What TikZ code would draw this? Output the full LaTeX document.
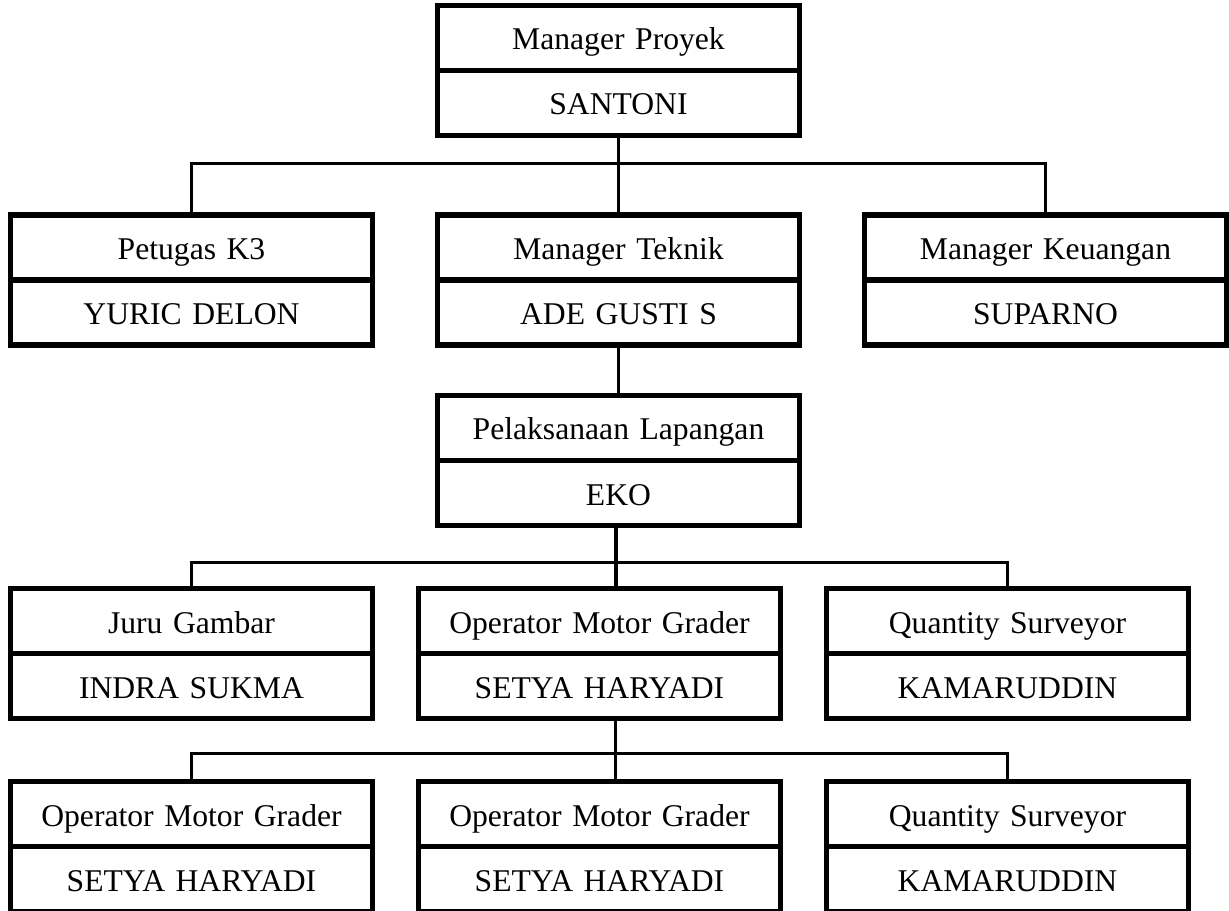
\documentclass[tikz,border=0pt]{standalone}
\usepackage{fontspec}
\setmainfont{Liberation Serif}
\usetikzlibrary{shapes.multipart}
\newcommand{\jstrut}{\rule[-0.355cm]{0pt}{1.19cm}}
\begin{document}
\begin{tikzpicture}[every node/.style = { draw, line width = 0.11cm, rectangle split, rectangle split parts = 2,
        text width = 7.24cm, inner xsep = 0pt, inner ysep = 0pt, align = center, font = \fontsize{18}{22}\selectfont },
    elbow/.style 2 args = { edge from parent path = {([xshift = #2]\tikzparentnode.south) -- ++(0,-#1) -| (\tikzchildnode.north)} },
    straight/.style = { edge from parent path = {([xshift = #1]\tikzparentnode.south) -- ([xshift = #1]\tikzparentnode.south |- \tikzchildnode.north)} },
    edge from parent/.style = { draw, line width = 0.065cm },
    level 1/.style = { level distance = 4.19cm, sibling distance = 8.54cm, elbow = {0.5cm}{0cm} },
    level 2/.style = { level distance = 3.61cm, elbow = {0.4cm}{0cm} },
    level 3/.style = { level distance = 3.86cm, sibling distance = 8.16cm, elbow = {0.68cm}{-0.05cm},
        every node/.append style = { xshift = -0.38cm } },
    level 4/.style = { level distance = 3.86cm, sibling distance = 8.16cm, elbow = {0.64cm}{0.32cm},
        every node/.append style = { xshift = 0.38cm } }]
    \useasboundingbox (0,0) rectangle (24.58,-18.22);
    \node (proyek) at (12.37,-1.41) { \jstrut Manager Proyek \nodepart{two} \jstrut SANTONI }
      child { node (k3) { \jstrut Petugas K3 \nodepart{two} \jstrut YURIC DELON } }
      child { node (teknik) { \jstrut Manager Teknik \nodepart{two} \jstrut ADE GUSTI S }
      child { node (lapangan) { \jstrut Pelaksanaan Lapangan \nodepart{two} \jstrut EKO }
      child { node (gambar) { \jstrut Juru Gambar \nodepart{two} \jstrut INDRA SUKMA } }
      child [straight = -0.05cm] { node (grader) { \jstrut Operator Motor Grader \nodepart{two} \jstrut SETYA HARYADI }
      child { node (graderkiri) { \jstrut Operator Motor Grader \nodepart{two} \jstrut SETYA HARYADI } }
      child [straight = 0.32cm] { node (gradertengah) { \jstrut Operator Motor Grader \nodepart{two} \jstrut SETYA HARYADI } }
      child { node (surveyorbawah) { \jstrut Quantity Surveyor \nodepart{two} \jstrut KAMARUDDIN } }
      }
      child { node (surveyor) { \jstrut Quantity Surveyor \nodepart{two} \jstrut KAMARUDDIN } }
      }}
      child { node (keuangan) { \jstrut Manager Keuangan \nodepart{two} \jstrut SUPARNO } };
\end{tikzpicture}
\end{document}
